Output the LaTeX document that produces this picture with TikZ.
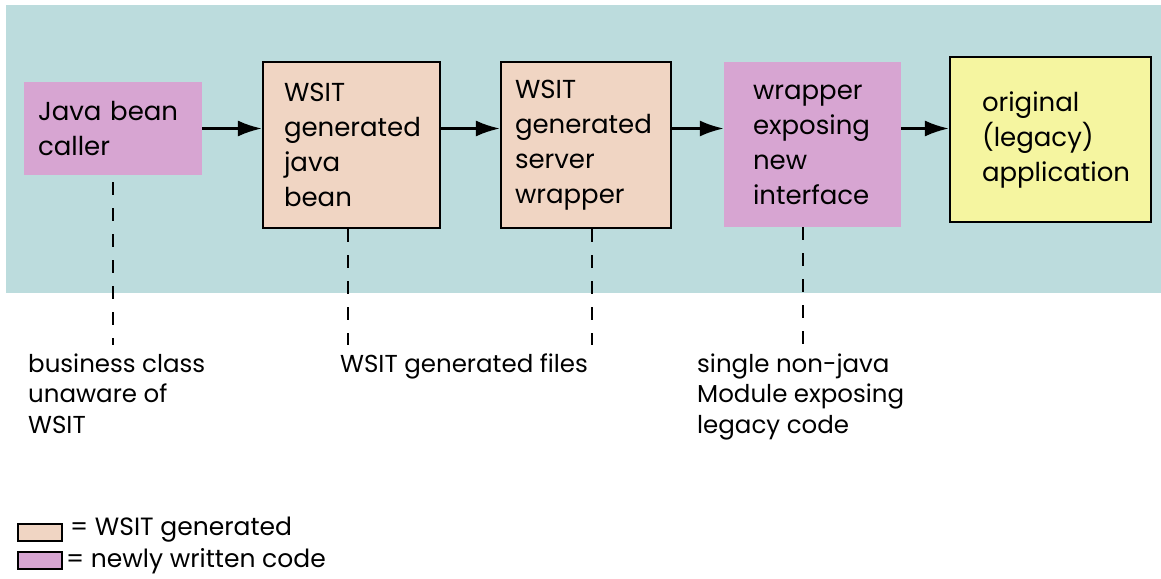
\documentclass[tikz,border=0pt]{standalone}
\usepackage{fontspec}
\setmainfont{Poppins}
\usetikzlibrary{arrows.meta}
\definecolor{bgteal}{RGB}{188,220,221}
\definecolor{newpink}{RGB}{215,165,210}
\definecolor{genpeach}{RGB}{240,213,195}
\definecolor{legyellow}{RGB}{245,245,160}
\begin{document}
\begin{tikzpicture}[x=1pt,y=-1pt,
  boxtxt/.style={inner sep=0pt, align=left, font=\fontsize{26}{35}\selectfont},
  newbox/.style={boxtxt, fill=newpink},
  genbox/.style={boxtxt, fill=genpeach, draw=black, line width=2.2pt},
  legbox/.style={boxtxt, fill=legyellow, draw=black, line width=2.2pt},
  arr/.style={line width=2.6pt, -{Latex[length=24pt,width=16pt]}},
  dashline/.style={line width=2.4pt, dash pattern=on 13pt off 13pt},
  lbl/.style={inner sep=0pt, anchor=base west, align=left, font=\fontsize{24.5}{30.5}\selectfont},
  keytxt/.style={inner sep=0pt, anchor=base west, font=\fontsize{25}{30}\selectfont},
  keybox/.style={draw=black, line width=2pt, minimum width=44pt, minimum height=17pt, inner sep=0pt, anchor=north west}
]
\useasboundingbox (0,0) rectangle (1161,578);
\fill[white] (0,0) rectangle (1161,578);
\fill[bgteal] (6,5) rectangle (1161,293);

\node[newbox, minimum width=178pt, minimum height=93pt, text width=150pt] (b1) at (113,128.5) {Java bean\\caller};
\node[genbox, minimum width=177pt, minimum height=166pt, text width=135pt] (b2) at (351.5,145) {WSIT\\generated\\java\\bean};
\node[genbox, minimum width=170pt, minimum height=166pt, text width=142pt] (b3) at (586,145) {WSIT\\generated\\server\\wrapper};
\node[newbox, minimum width=177pt, minimum height=165pt, text width=119pt] (b4) at (812.5,144.5) {wrapper\\exposing\\new\\interface};
\node[legbox, minimum width=201pt, minimum height=165pt, text width=137pt] (b5) at (1050.5,139.5) {original\\(legacy)\\application};

\draw[arr] (b1.east) -- (b2.west |- b1.east);
\draw[arr] (b2.east |- b1.east) -- (b3.west |- b1.east);
\draw[arr] (b3.east |- b1.east) -- (b4.west |- b1.east);
\draw[arr] (b4.east |- b1.east) -- (b5.west |- b1.east);

\node[lbl] (l1) at (28,433) {business class\\unaware of\\WSIT};
\node[lbl] (l2) at (340,372) {WSIT generated files};
\node[lbl] (l3) at (697,433) {single non-java\\Module exposing\\legacy code};

\coordinate (d1) at (113,345);
\coordinate (d2) at (348,345);
\coordinate (d3) at (592,345);
\coordinate (d4) at (803,345);
\draw[dashline] ([yshift=-7pt]b1.south) -- (d1);
\draw[dashline] (b2.south -| d2) -- (d2);
\draw[dashline] (b3.south -| d3) -- (d3);
\draw[dashline] (b4.south -| d4) -- (d4);

\node[keybox, fill=genpeach] (k1) at (17,523) {};
\node[keybox, fill=newpink] (k2) at (17,551) {};
\node[keytxt] (kl1) at (70,535) {= WSIT generated};
\node[keytxt] (kl2) at (66,567) {= newly written code};
\end{tikzpicture}
\end{document}
